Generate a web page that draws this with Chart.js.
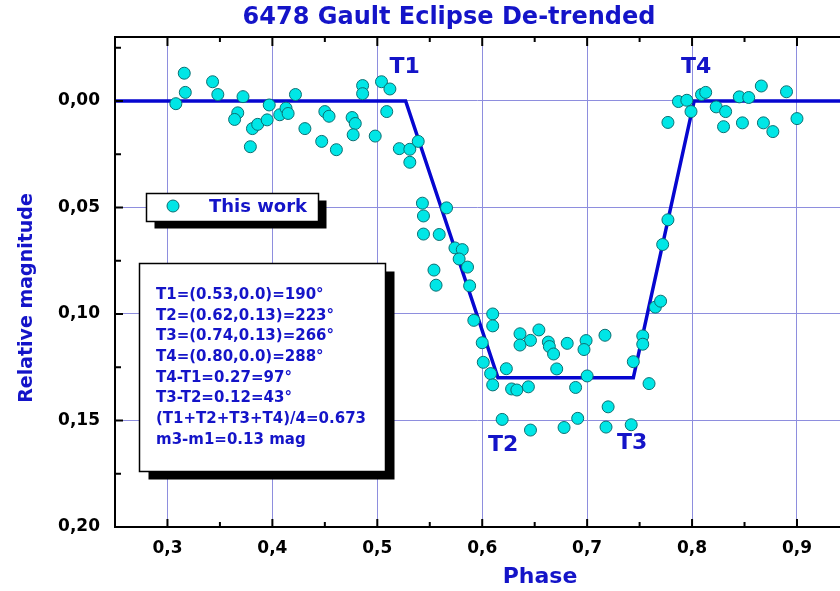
<!DOCTYPE html>
<html>
<head>
<meta charset="utf-8">
<title>6478 Gault Eclipse De-trended</title>
<script src="https://cdn.jsdelivr.net/npm/chart.js@4.4.1/dist/chart.umd.min.js"></script>
<style>
  html, body { margin: 0; padding: 0; background: #fff; overflow: hidden; }
</style>
</head>
<body>
<canvas id="curva" width="840" height="591"></canvas>
<script>
// Puntos observados (fase, magnitud relativa)
const phase = [
  0.308, 0.316, 0.317, 0.343, 0.348, 0.372, 0.367, 0.364, 0.381, 0.386,
  0.395, 0.379, 0.397, 0.407, 0.413, 0.415, 0.422, 0.431, 0.447, 0.450,
  0.454, 0.461, 0.476, 0.479, 0.477, 0.486, 0.486, 0.498, 0.504, 0.512,
  0.509, 0.521, 0.531, 0.539, 0.531, 0.543, 0.566, 0.544, 0.544, 0.559,
  0.574, 0.581, 0.578, 0.586, 0.554, 0.556, 0.588, 0.592, 0.610, 0.610,
  0.600, 0.601, 0.608, 0.610, 0.623, 0.628, 0.633, 0.644, 0.636, 0.654,
  0.646, 0.636, 0.663, 0.664, 0.668, 0.681, 0.699, 0.697, 0.717, 0.671,
  0.700, 0.689, 0.720, 0.619, 0.646, 0.678, 0.691, 0.718, 0.742, 0.744,
  0.759, 0.753, 0.753, 0.765, 0.770, 0.772, 0.777, 0.777, 0.787, 0.795,
  0.799, 0.809, 0.813, 0.823, 0.832, 0.830, 0.845, 0.854, 0.848, 0.866,
  0.868, 0.877, 0.890, 0.900
];
const magnitude = [
  0.0013, -0.0130, -0.0040, -0.0090, -0.0030, -0.0020, 0.0056, 0.0087, 0.0130, 0.0110,
  0.0089, 0.0215, 0.0019, 0.0065, 0.0034, 0.0059, -0.0030, 0.0130, 0.0190, 0.0050,
  0.0072, 0.0229, 0.0078, 0.0106, 0.0159, -0.0072, -0.0034, 0.0165, -0.0090, -0.0056,
  0.0050, 0.0224, 0.0227, 0.0190, 0.0288, 0.0480, 0.0502, 0.0540, 0.0625, 0.0627,
  0.0690, 0.0698, 0.0742, 0.0780, 0.0794, 0.0865, 0.0868, 0.1030, 0.1000, 0.1056,
  0.1135, 0.1227, 0.1280, 0.1333, 0.1257, 0.1352, 0.1357, 0.1342, 0.1093, 0.1075,
  0.1124, 0.1146, 0.1132, 0.1153, 0.1188, 0.1138, 0.1125, 0.1167, 0.1100, 0.1258,
  0.1291, 0.1345, 0.1436, 0.1495, 0.1545, 0.1533, 0.1490, 0.1531, 0.1520, 0.1224,
  0.1327, 0.1103, 0.1142, 0.0968, 0.0940, 0.0674, 0.0558, 0.0101, 0.0003, -0.0003,
  0.0050, -0.0030, -0.0040, 0.0028, 0.0050, 0.0121, -0.0019, -0.0016, 0.0103, -0.0070,
  0.0103, 0.0144, -0.0043, 0.0083
];

// Modelo de contactos T1..T4
const modelPhase = [0.25, 0.527, 0.615, 0.744, 0.802, 0.941];
const modelMag = [0, 0, 0.13, 0.13, 0, 0];

// Ejes
const phaseTicks = [0.3, 0.4, 0.5, 0.6, 0.7, 0.8, 0.9];
const magTicks = [0, 0.05, 0.10, 0.15, 0.20];

// Etiquetas de contacto
const contactNames = ['T1', 'T2', 'T3', 'T4'];
const contactPhase = [0.526, 0.620, 0.743, 0.804];
const contactMag = [-0.016, 0.1616, 0.1607, -0.016];

// Texto del recuadro
const boxLines = [
  'T1=(0.53,0.0)=190°',
  'T2=(0.62,0.13)=223°',
  'T3=(0.74,0.13)=266°',
  'T4=(0.80,0.0)=288°',
  'T4-T1=0.27=97°',
  'T3-T2=0.12=43°',
  '(T1+T2+T3+T4)/4=0.673',
  'm3-m1=0.13 mag'
];

const AZUL = '#1414c8';
const CIAN = '#00e6e6';
const BORDE_CIAN = '#0b6f72';
const FUENTE = '"DejaVu Sans", sans-serif';

const coma = (v, d) => v.toFixed(d).replace('.', ',');

function circulo(ctx, x, y, r) {
  ctx.beginPath();
  ctx.arc(x, y, r, 0, Math.PI * 2);
  ctx.fillStyle = CIAN;
  ctx.fill();
  ctx.lineWidth = 1;
  ctx.strokeStyle = BORDE_CIAN;
  ctx.stroke();
}

function cajaConSombra(ctx, x, y, w, h, dx, dy) {
  ctx.fillStyle = '#000';
  ctx.fillRect(x + dx, y + dy, w, h);
  ctx.fillStyle = '#fff';
  ctx.fillRect(x, y, w, h);
  ctx.lineWidth = 1.5;
  ctx.strokeStyle = '#000';
  ctx.strokeRect(x, y, w, h);
}

const marcoPlugin = {
  id: 'marco',
  afterDraw(chart) {
    const { ctx, chartArea: a, scales: { x, y } } = chart;
    ctx.save();

    // marco (izquierda, arriba, abajo)
    ctx.strokeStyle = '#000';
    ctx.lineWidth = 2;
    ctx.beginPath();
    ctx.moveTo(a.right + 2, a.top);
    ctx.lineTo(a.left, a.top);
    ctx.lineTo(a.left, a.bottom);
    ctx.lineTo(a.right + 2, a.bottom);

    // marcas hacia dentro
    phaseTicks.forEach(v => {
      const px = x.getPixelForValue(v);
      ctx.moveTo(px, a.bottom); ctx.lineTo(px, a.bottom - 8);
      ctx.moveTo(px, a.top); ctx.lineTo(px, a.top + 9);
      const pm = x.getPixelForValue(v + 0.05);
      if (pm < a.right) {
        ctx.moveTo(pm, a.bottom); ctx.lineTo(pm, a.bottom - 5);
        ctx.moveTo(pm, a.top); ctx.lineTo(pm, a.top + 5);
      }
    });
    magTicks.forEach(v => {
      const py = y.getPixelForValue(v);
      ctx.moveTo(a.left, py); ctx.lineTo(a.left + 8, py);
      const pm = y.getPixelForValue(v - 0.025);
      if (pm > a.top) { ctx.moveTo(a.left, pm); ctx.lineTo(a.left + 6, pm); }
    });
    ctx.stroke();

    // titulos de ejes
    ctx.fillStyle = AZUL;
    ctx.textAlign = 'center';
    ctx.textBaseline = 'middle';
    ctx.font = 'bold 22px ' + FUENTE;
    ctx.fillText('Phase', 540, 577);
    ctx.save();
    ctx.translate(27, 298);
    ctx.rotate(-Math.PI / 2);
    ctx.font = 'bold 19px ' + FUENTE;
    ctx.fillText('Relative magnitude', 0, 0);
    ctx.restore();

    // etiquetas T1..T4
    ctx.font = 'bold 22px ' + FUENTE;
    contactNames.forEach((t, i) => {
      ctx.fillText(t, x.getPixelForValue(contactPhase[i]), y.getPixelForValue(contactMag[i]));
    });

    // leyenda
    cajaConSombra(ctx, 146.5, 193.5, 172, 28, 8, 7);
    circulo(ctx, 173, 206, 6);
    ctx.fillStyle = AZUL;
    ctx.textAlign = 'left';
    ctx.font = 'bold 18px ' + FUENTE;
    ctx.fillText('This work', 209, 207);

    // recuadro de contactos
    cajaConSombra(ctx, 139.5, 263.5, 246, 208, 9, 8);
    ctx.fillStyle = AZUL;
    ctx.font = 'bold 15px ' + FUENTE;
    boxLines.forEach((l, i) => ctx.fillText(l, 156, 295 + i * 20.7));

    ctx.restore();
  }
};

const ctx = document.getElementById('curva').getContext('2d');
new Chart(ctx, {
  type: 'scatter',
  data: {
    datasets: [
      {
        label: 'This work',
        data: phase.map((p, i) => ({ x: p, y: magnitude[i] })),
        backgroundColor: CIAN,
        borderColor: BORDE_CIAN,
        borderWidth: 1,
        pointRadius: 6,
        order: 0
      },
      {
        label: 'Modelo',
        type: 'line',
        data: modelPhase.map((p, i) => ({ x: p, y: modelMag[i] })),
        borderColor: '#0606d0',
        borderWidth: 3.5,
        pointRadius: 0,
        fill: false,
        tension: 0,
        order: 1
      }
    ]
  },
  options: {
    responsive: false,
    animation: false,
    devicePixelRatio: 1,
    layout: { autoPadding: false, padding: { left: 58, right: 0, top: 0, bottom: 0 } },
    plugins: {
      legend: { display: false },
      tooltip: { enabled: false },
      title: {
        display: true,
        text: '6478 Gault Eclipse De-trended',
        color: AZUL,
        font: { family: FUENTE, size: 24, weight: 'bold' },
        padding: { top: 3, bottom: 5.2 }
      }
    },
    scales: {
      x: {
        type: 'linear',
        position: 'bottom',
        min: 0.25,
        max: 0.941,
        border: { display: false },
        grid: { color: '#8e8ede', lineWidth: 1, drawTicks: false },
        ticks: {
          color: '#000',
          padding: 11,
          font: { family: FUENTE, size: 17, weight: 'bold' },
          callback: v => coma(v, 1)
        },
        afterBuildTicks: s => { s.ticks = phaseTicks.map(v => ({ value: v })); },
        afterFit: s => { s.height = 64; s.paddingLeft = 0; s.paddingRight = 0; }
      },
      y: {
        type: 'linear',
        reverse: true,
        min: -0.03,
        max: 0.20,
        border: { display: false },
        grid: { color: '#8e8ede', lineWidth: 1, drawTicks: false },
        ticks: {
          color: '#000',
          padding: 15,
          font: { family: FUENTE, size: 17, weight: 'bold' },
          callback: v => coma(v, 2)
        },
        afterBuildTicks: s => { s.ticks = magTicks.map(v => ({ value: v })); },
        afterFit: s => { s.width = 57; }
      }
    }
  },
  plugins: [marcoPlugin]
});
</script>
</body>
</html>
